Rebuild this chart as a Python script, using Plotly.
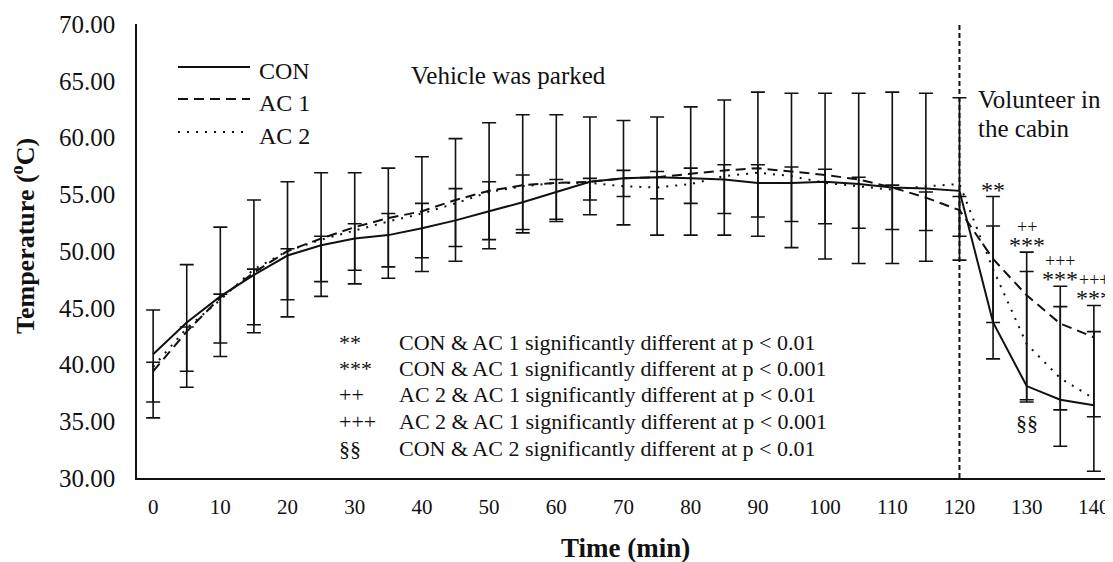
import plotly.graph_objects as go

# ---- data ----
time_min = [0, 5, 10, 15, 20, 25, 30, 35, 40, 45, 50, 55, 60, 65, 70, 75, 80, 85,
            90, 95, 100, 105, 110, 115, 120, 125, 130, 135, 140]

con = [40.9, 43.7, 46.0, 47.9, 49.6, 50.5, 51.1, 51.4, 52.0, 52.7, 53.5, 54.3, 55.2,
       56.1, 56.4, 56.5, 56.4, 56.3, 56.0, 56.0, 56.1, 55.9, 55.6, 55.5, 55.3, 43.7,
       38.1, 36.9, 36.4]
con_err_plus = [3.9, 5.1, 6.1, 6.6, 6.5, 6.4, 5.8, 5.9, 6.3, 7.2, 7.8, 7.7, 6.8, 5.7,
                5.1, 5.3, 6.3, 7.0, 8.0, 7.9, 7.8, 8.0, 8.4, 8.4, 8.2, 11.1, 11.8, 10.0, 8.8]
con_err_minus = [5.6, 5.7, 5.3, 5.1, 5.4, 4.5, 4.0, 3.8, 3.8, 3.6, 3.3, 2.7, 2.6, 2.9,
                 4.1, 5.1, 5.0, 4.9, 4.7, 5.7, 6.8, 7.0, 6.7, 6.4, 6.1, 3.2, 1.4, 4.1, 5.8]

ac1 = [39.4, 42.9, 45.9, 48.1, 50.0, 51.1, 52.1, 52.9, 53.5, 54.5, 55.3, 55.8, 56.0,
       56.1, 56.4, 56.5, 56.8, 57.1, 57.3, 57.0, 56.7, 56.3, 55.6, 54.7, 53.6, 49.3,
       46.1, 43.6, 42.4]
ac1_err_plus = [0.8, 0.4, 0.3, 0.3, 0.2, 0.2, 0.3, 0.4, 0.7, 1.0, 0.8, 0.9, 0.3, 0.3,
                0.7, 0.5, 0.5, 0.5, 0.3, 0.4, 0.5, 0.2, 0.2, 0.5, 1.2, 2.9, 2.1, 1.5, 0.5]
ac1_err_minus = [2.7, 3.5, 4.0, 4.6, 4.3, 3.8, 3.8, 4.3, 4.1, 4.1, 4.3, 3.9, 3.2, 1.6,
                 1.6, 1.9, 2.6, 3.8, 4.3, 4.4, 4.3, 4.3, 3.7, 2.9, 2.3, 5.6, 9.2, 7.6, 7.0]

ac2 = [39.8, 43.2, 45.7, 48.4, 50.0, 51.0, 51.8, 52.6, 53.3, 54.2, 55.2, 55.7, 56.0,
       56.0, 55.7, 55.6, 55.9, 56.6, 56.9, 56.6, 56.0, 55.7, 55.4, 55.7, 55.9, 48.4,
       41.8, 38.8, 37.0]

series_names = ["CON", "AC 1", "AC 2"]
event_time = 120

sig_times = [125, 130, 135, 140]
sig_lower = ["**", "***", "***", "***"]
sig_upper = ["", "++", "+++", "+++"]
sig_below_time = 130
sig_below_text = "§§"

sig_symbols = ["**", "***", "++", "+++", "§§"]
sig_texts = [
    "CON & AC 1 significantly different at p < 0.01",
    "CON & AC 1 significantly different at p < 0.001",
    "AC 2 & AC 1 significantly different at p < 0.01",
    "AC 2 & AC 1 significantly different at p < 0.001",
    "CON & AC 2 significantly different at p < 0.01",
]

# ---- figure ----
FONT = "Liberation Serif, Times New Roman, serif"
BLACK = "#111111"

# page has an 8px body margin, so the figure is shifted by 8px
OFF = 8
W, H = 1113 - OFF, 562 - OFF
L, R, T, B = 137 - OFF, 3, 24 - OFF, 84
PW, PH = W - L - R, H - T - B


def px(xp):  # page pixel -> paper x
    return (xp - OFF - L) / PW


def py(yp):  # page pixel -> paper y
    return (H - B - (yp - OFF)) / PH


fig = go.Figure()

err_style = dict(type="data", symmetric=False, color=BLACK, thickness=1.6, width=7)

fig.add_trace(go.Scatter(
    x=time_min, y=con, mode="lines", name=series_names[0],
    line=dict(color=BLACK, width=2),
    error_y=dict(array=con_err_plus, arrayminus=con_err_minus, **err_style),
    showlegend=False))
fig.add_trace(go.Scatter(
    x=time_min, y=ac1, mode="lines", name=series_names[1],
    line=dict(color=BLACK, width=2, dash="10px,6px"),
    error_y=dict(array=ac1_err_plus, arrayminus=ac1_err_minus, **err_style),
    showlegend=False))
fig.add_trace(go.Scatter(
    x=time_min, y=ac2, mode="lines", name=series_names[2],
    line=dict(color=BLACK, width=2, dash="2px,7px"),
    showlegend=False))

# vertical dashed event line
fig.add_shape(type="line", xref="x", yref="paper", x0=event_time, x1=event_time,
              y0=0, y1=1, line=dict(color=BLACK, width=2, dash="5px,3px"))

# manual legend (top-left)
legend_dash = [None, "10px,6px", "2px,7px"]
legend_line_y = [67, 99, 132]
legend_text_y = [71, 103, 136]
for name, dash, ly, ty in zip(series_names, legend_dash, legend_line_y, legend_text_y):
    line = dict(color=BLACK, width=2)
    if dash:
        line["dash"] = dash
    fig.add_shape(type="line", xref="paper", yref="paper", x0=px(178), x1=px(250),
                  y0=py(ly), y1=py(ly), line=line)
    fig.add_annotation(xref="paper", yref="paper", x=px(257), y=py(ty), text=name,
                       showarrow=False, xanchor="left", yanchor="middle",
                       font=dict(family=FONT, size=24, color=BLACK))

# text labels
fig.add_annotation(xref="paper", yref="paper", x=px(409), y=py(75), text="Vehicle was parked",
                   showarrow=False, xanchor="left", yanchor="middle",
                   font=dict(family=FONT, size=25, color=BLACK))
fig.add_annotation(xref="paper", yref="paper", x=px(976), y=py(100), text="Volunteer in",
                   showarrow=False, xanchor="left", yanchor="middle",
                   font=dict(family=FONT, size=25, color=BLACK))
fig.add_annotation(xref="paper", yref="paper", x=px(976), y=py(128), text="the cabin",
                   showarrow=False, xanchor="left", yanchor="middle",
                   font=dict(family=FONT, size=25, color=BLACK))

# significance key
key_rows_y = [342, 368, 394, 421, 448]
for sym, txt, ry in zip(sig_symbols, sig_texts, key_rows_y):
    fig.add_annotation(xref="paper", yref="paper", x=px(337), y=py(ry), text=sym,
                       showarrow=False, xanchor="left", yanchor="middle",
                       font=dict(family=FONT, size=22, color=BLACK))
    fig.add_annotation(xref="paper", yref="paper", x=px(397), y=py(ry), text=txt,
                       showarrow=False, xanchor="left", yanchor="middle",
                       font=dict(family=FONT, size=22, color=BLACK))

# significance markers above error bars
for t, lo, up in zip(sig_times, sig_lower, sig_upper):
    i = time_min.index(t)
    top = con[i] + con_err_plus[i]
    fig.add_annotation(x=t, y=top, text=lo, showarrow=False, xanchor="center",
                       yanchor="bottom", yshift=-8,
                       font=dict(family=FONT, size=24, color=BLACK))
    if up:
        fig.add_annotation(x=t, y=top, text=up, showarrow=False, xanchor="center",
                           yanchor="bottom", yshift=13,
                           font=dict(family=FONT, size=18, color=BLACK))
i = time_min.index(sig_below_time)
fig.add_annotation(x=sig_below_time, y=con[i] - con_err_minus[i], text=sig_below_text,
                   showarrow=False, xanchor="center", yanchor="top", yshift=-6,
                   font=dict(family=FONT, size=22, color=BLACK))

# axis titles
fig.add_annotation(xref="paper", yref="paper", x=px(24), y=py(236),
                   text="<b>Temperature (<sup>o</sup>C)</b>", textangle=-90,
                   showarrow=False, xanchor="center", yanchor="middle",
                   font=dict(family=FONT, size=26, color=BLACK))
fig.add_annotation(xref="paper", yref="paper", x=px(625), y=py(548),
                   text="<b>Time (min)</b>", showarrow=False,
                   xanchor="center", yanchor="middle",
                   font=dict(family=FONT, size=27, color=BLACK))

fig.update_layout(
    width=W, height=H,
    margin=dict(l=L, r=R, t=T, b=B),
    paper_bgcolor="white", plot_bgcolor="white",
    font=dict(family=FONT, color=BLACK),
    showlegend=False,
    xaxis=dict(range=[-2.4, 142.4], tickmode="array",
               tickvals=list(range(0, 141, 10)),
               ticktext=[str(v) for v in range(0, 141, 10)],
               showgrid=False, zeroline=False, showline=True, linecolor=BLACK,
               linewidth=1.5, ticks="", ticklabelstandoff=9,
               tickfont=dict(family=FONT, size=21, color=BLACK)),
    yaxis=dict(range=[30, 70], dtick=5, tick0=30, tickformat=".2f",
               showgrid=False, zeroline=False, showline=True, linecolor=BLACK,
               linewidth=1.5, ticks="", ticklabelstandoff=15,
               tickfont=dict(family=FONT, size=25, color=BLACK)),
)

fig.write_html("out.html")
